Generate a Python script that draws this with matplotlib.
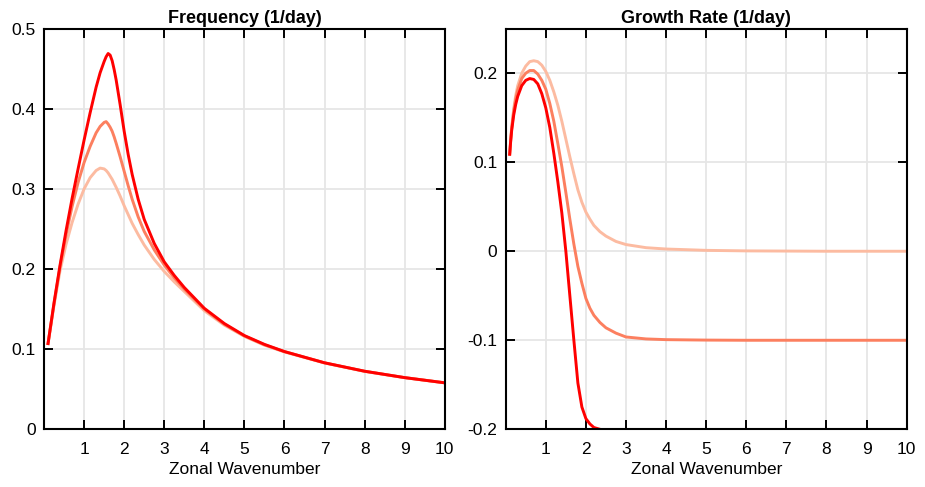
import numpy as np
import matplotlib.pyplot as plt

plt.rcParams['font.family'] = ['Liberation Sans', 'DejaVu Sans']
plt.rcParams['axes.unicode_minus'] = False

# colours of the three cases (lightest drawn first)
colors = ['#fcbba1', '#fc7f5f', '#ff0000']

# Frequency panel
k_freq = [0.1, 0.25, 0.4, 0.55, 0.7, 0.85, 1.0, 1.15, 1.3, 1.4, 1.5, 1.55, 1.6, 1.65,
          1.7, 1.75, 1.8, 1.9, 2.0, 2.1, 2.2, 2.35, 2.5, 2.75, 3.0, 3.25, 3.5, 4.0,
          4.5, 5.0, 5.5, 6.0, 7.0, 8.0, 9.0, 10.0]
freq_light = [0.107, 0.155, 0.198, 0.231, 0.258, 0.281, 0.300, 0.314, 0.323, 0.326, 0.325,
              0.323, 0.320, 0.316, 0.312, 0.307, 0.302, 0.291, 0.279, 0.268, 0.257, 0.243,
              0.230, 0.212, 0.197, 0.184, 0.172, 0.148, 0.130, 0.116, 0.105, 0.0965,
              0.0828, 0.0723, 0.0644, 0.058]
freq_mid = [0.107, 0.157, 0.203, 0.243, 0.278, 0.308, 0.333, 0.353, 0.370, 0.378, 0.383,
            0.384, 0.381, 0.377, 0.372, 0.365, 0.357, 0.340, 0.322, 0.304, 0.287, 0.265,
            0.247, 0.224, 0.205, 0.189, 0.175, 0.150, 0.131, 0.1165, 0.1055, 0.097,
            0.0829, 0.0724, 0.0645, 0.058]
freq_red = [0.107, 0.158, 0.205, 0.248, 0.288, 0.325, 0.361, 0.395, 0.427, 0.445, 0.459,
            0.465, 0.469, 0.467, 0.460, 0.449, 0.436, 0.405, 0.372, 0.343, 0.318, 0.287,
            0.262, 0.232, 0.209, 0.192, 0.177, 0.151, 0.132, 0.117, 0.106, 0.097,
            0.083, 0.0725, 0.0645, 0.058]

# Growth rate panel
k_grow = [0.1, 0.125, 0.15, 0.2, 0.25, 0.3, 0.4, 0.5, 0.6, 0.7, 0.8, 0.9, 1.0, 1.1, 1.2,
          1.3, 1.4, 1.5, 1.6, 1.7, 1.8, 1.9, 2.0, 2.1, 2.2, 2.35, 2.5, 2.75, 3.0, 3.5,
          4.0, 5.0, 6.0, 7.0, 8.0, 9.0, 10.0]
grow_light = [0.109, 0.126, 0.140, 0.160, 0.175, 0.186, 0.200, 0.208, 0.213, 0.214, 0.213,
              0.209, 0.202, 0.192, 0.179, 0.164, 0.146, 0.126, 0.106, 0.087, 0.069, 0.055,
              0.044, 0.036, 0.029, 0.022, 0.017, 0.011, 0.0075, 0.004, 0.0025, 0.001,
              0.0004, 0.0002, 0.0, 0.0, 0.0]
grow_mid = [0.109, 0.125, 0.138, 0.157, 0.171, 0.181, 0.194, 0.200, 0.203, 0.203, 0.199,
            0.192, 0.182, 0.166, 0.146, 0.121, 0.095, 0.066, 0.036, 0.008, -0.017, -0.036,
            -0.053, -0.064, -0.072, -0.080, -0.086, -0.092, -0.0963, -0.0985, -0.0993,
            -0.0998, -0.1, -0.1, -0.1, -0.1, -0.1]
k_grow_red = [0.1, 0.125, 0.15, 0.2, 0.25, 0.3, 0.4, 0.5, 0.6, 0.7, 0.8, 0.9, 1.0, 1.1,
              1.2, 1.3, 1.4, 1.5, 1.6, 1.7, 1.8, 1.9, 2.0, 2.1, 2.2, 2.35, 2.45]
grow_red = [0.109, 0.124, 0.136, 0.153, 0.165, 0.174, 0.186, 0.192, 0.194, 0.193, 0.188,
            0.177, 0.161, 0.139, 0.110, 0.078, 0.043, 0.0, -0.05, -0.1, -0.148, -0.175,
            -0.188, -0.194, -0.198, -0.2, -0.201]

fig = plt.figure(figsize=(9.25, 4.87), dpi=100)
ax1 = fig.add_axes([0.0476, 0.1185, 0.4332, 0.8226])
ax2 = fig.add_axes([0.5467, 0.1185, 0.4335, 0.8226])

ax1.plot(k_freq, freq_light, color=colors[0], lw=2.1)
ax1.plot(k_freq, freq_mid, color=colors[1], lw=2.1)
ax1.plot(k_freq, freq_red, color=colors[2], lw=2.1)

ax2.plot(k_grow, grow_light, color=colors[0], lw=2.1)
ax2.plot(k_grow, grow_mid, color=colors[1], lw=2.1)
ax2.plot(k_grow_red, grow_red, color=colors[2], lw=2.1)

ax1.set_ylim(0, 0.5)
ax1.set_yticks([0, 0.1, 0.2, 0.3, 0.4, 0.5])
ax1.set_yticklabels(['0', '0.1', '0.2', '0.3', '0.4', '0.5'])
ax1.set_title('Frequency (1/day)', fontsize=13, fontweight='bold', pad=4)

ax2.set_ylim(-0.2, 0.25)
ax2.set_yticks([-0.2, -0.1, 0, 0.1, 0.2])
ax2.set_yticklabels(['-0.2', '-0.1', '0', '0.1', '0.2'])
ax2.set_title('Growth Rate (1/day)', fontsize=13, fontweight='bold', pad=4)

for ax in (ax1, ax2):
    ax.set_xlim(0, 10)
    ax.set_xticks(range(1, 11))
    ax.set_xticklabels([str(i) for i in range(1, 11)])
    ax.set_xlabel('Zonal Wavenumber', fontsize=12.5, labelpad=4)
    ax.grid(True, color='#e6e6e6', lw=1.3)
    ax.set_axisbelow(True)
    ax.tick_params(direction='in', length=6.5, width=1.4, labelsize=12.5,
                   top=True, right=True, colors='black')
    ax.tick_params(axis='x', pad=9)
    ax.tick_params(axis='y', pad=6)
    for s in ax.spines.values():
        s.set_linewidth(1.5)
        s.set_color('black')

fig.savefig('out.png', dpi=100)
